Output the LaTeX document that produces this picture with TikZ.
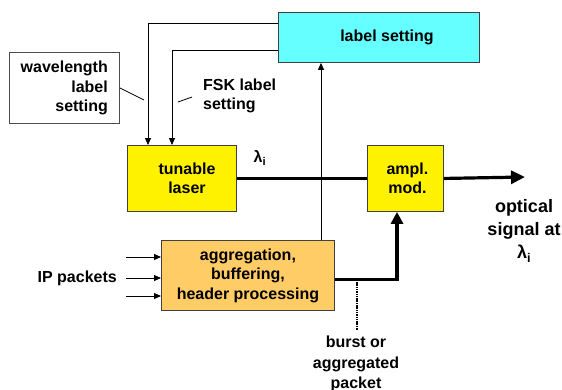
\documentclass[tikz,border=0pt]{standalone}
\usepackage{fontspec}
\setmainfont{Liberation Sans}
\usetikzlibrary{arrows.meta,calc}
\begin{document}
\begin{tikzpicture}[x=1pt,y=-1pt,
  every node/.style={font=\bfseries\fontsize{16}{19.5}\selectfont, inner sep=0pt},
  blk/.style={draw=black!75, line width=0.9pt, anchor=north west, align=center},
  thin/.style={line width=0.8pt},
  tarr/.style={thin, -{Triangle[length=7pt,width=6pt]}},
  thick/.style={line width=3.2pt},
  ]
\useasboundingbox (0,0) rectangle (562,389);
\node[blk, fill={rgb,255:red,102;green,255;blue,255}, minimum width=201pt, minimum height=50pt] (ls) at (278,12) {\hspace{16pt}label setting};
\node[blk, fill=yellow, minimum width=109pt, minimum height=66pt] (laser) at (127,145) {\hspace{10pt}tunable\\\hspace{10pt}laser};
\node[blk, fill=yellow, minimum width=76pt, minimum height=66pt] (mod) at (367,145) {\hspace{4pt}ampl.\\\hspace{4pt}mod.};
\node[blk, fill={rgb,255:red,255;green,204;blue,102}, minimum width=173pt, minimum height=70pt] (agg) at (161,240) {aggregation,\\buffering,\\header processing};
\node[blk, draw=black!70, thin, minimum width=110pt, minimum height=71pt, align=right] (wl) at (9,52) {};
\node[anchor=east, align=right] (wlt) at (108,88) {wavelength\\label\\setting};
\node[anchor=west, align=left] (fsk) at (203,96) {FSK label\\setting};
\node (lam) at (260,158) {λ\textsubscript{i}};
\node[align=center, font=\bfseries\fontsize{18}{23}\selectfont] (opt) at (524,231) {optical\\signal at\\λ\textsubscript{i}};
\node[anchor=east] (ip) at (117,278) {IP packets};
\node[align=center, anchor=north, font=\bfseries\fontsize{16}{20.5}\selectfont] (burst) at (356,336) {burst or\\aggregated\\packet};
% coordinates
\coordinate (w1) at (120,88);
\coordinate (w2) at (144,100);
\coordinate (f1) at (178,102);
\coordinate (f2) at (192,97);
\coordinate (outend) at (525,177);
\coordinate (i1) at (126,257);
\coordinate (i2) at (126,278);
\coordinate (i3) at (126,296);
\coordinate (d1) at (357,282);
\coordinate (d2) at (357,330);
% connectors
\draw[tarr] ([yshift=-11pt]ls.north west) -| ([xshift=21pt]laser.north west);
\draw[tarr] ([yshift=13pt]ls.south west) -| ([xshift=45pt]laser.north west);
\draw[thin] (w1) -- (w2);
\draw[thin] (f1) -- (f2);
\draw[tarr] ([xshift=160pt]agg.north west) -- ([xshift=43pt]ls.south west);
\draw[thick] (laser.east) -- (mod.west);
\draw[thick, -{Triangle[length=14pt,width=13pt]}] (mod.east) -- (outend);
\draw[thick, -{Triangle[length=12pt,width=12pt]}] ([yshift=-4pt]agg.east) -| ([xshift=30pt]mod.south west);
\draw[tarr] (i1) -- (i1 -| agg.west);
\draw[tarr] (i2) -- (i2 -| agg.west);
\draw[tarr] (i3) -- (i3 -| agg.west);
\draw[line width=1.5pt, dash pattern=on 1.5pt off 0.8pt] (d1) -- (d2);
\end{tikzpicture}
\end{document}
